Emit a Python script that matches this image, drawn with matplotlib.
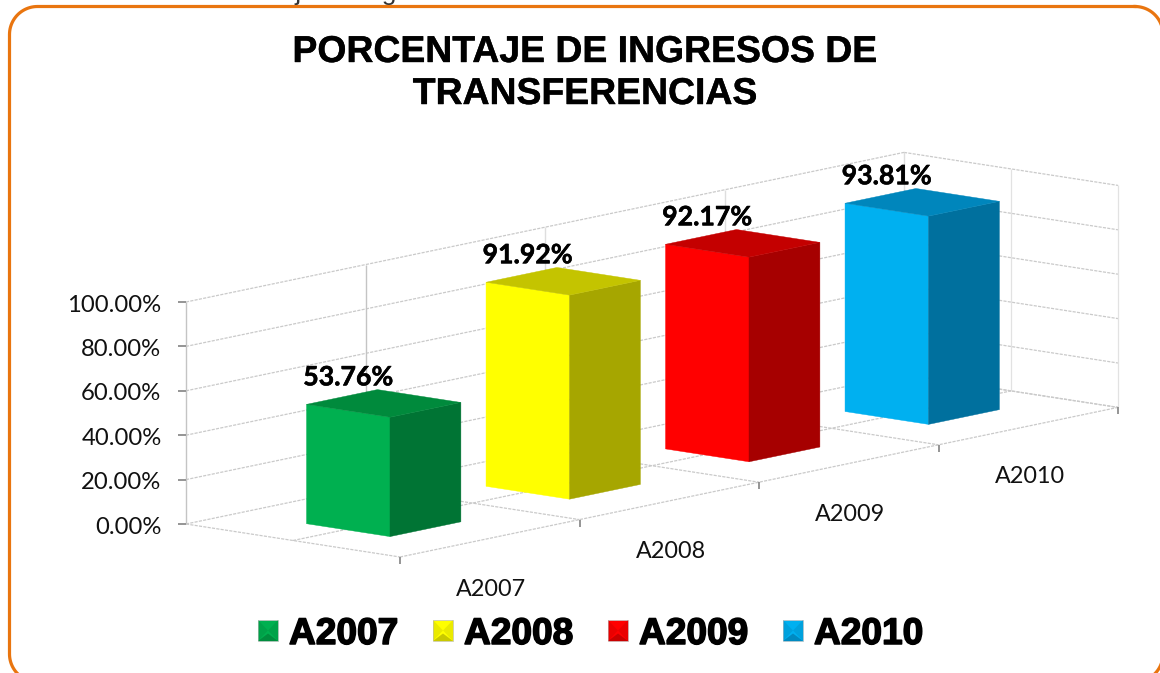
import numpy as np
import matplotlib
matplotlib.use("Agg")
import matplotlib.pyplot as plt
import matplotlib.patheffects as pe
from matplotlib.patches import Polygon

categories = ["A2007", "A2008", "A2009", "A2010"]
values = [53.76, 91.92, 92.17, 93.81]
y_ticks = [0, 20, 40, 60, 80, 100]
front_colors = ["#00B050", "#FFFF00", "#FF0000", "#00B0F0"]
side_colors = ["#007434", "#A6A600", "#A60000", "#00709E"]
top_colors = ["#008A3C", "#C4C400", "#C40000", "#0086BC"]
title = "PORCENTAJE DE INGRESOS DE\nTRANSFERENCIAS"
caption = "Gráfica N° 10: Porcentaje de Ingresos de Transferencia"

W, H = 1160, 673
fig = plt.figure(figsize=(W / 100, H / 100), dpi=100)
ax = fig.add_axes([0, 0, 1, 1])
ax.set_xlim(0, W)
ax.set_ylim(H, 0)
ax.axis("off")

ORIGIN = np.array([186.0, 524.0])
CAT = np.array([179.5, -37.4])
DEPTH = np.array([214.0, 33.0])
UNIT = 2.22


def P(c, d, v=0.0):
    return ORIGIN + c * CAT + d * DEPTH + np.array([0.0, -UNIT * v])


def seg(a, b, color="#CACACA", lw=0.9, ls=(0, (2.5, 1.0)), z=1):
    ax.plot([a[0], b[0]], [a[1], b[1]], color=color, lw=lw, ls=ls, zorder=z,
            solid_capstyle="butt")


n = len(categories)
# walls
for t in y_ticks:
    seg(P(0, 0, t), P(n, 0, t))
    seg(P(n, 0, t), P(n, 1, t))
    seg(P(0, 0, t) + [-8, 0], P(0, 0, t), color="#8C8C8C", lw=1.3, ls="-", z=2)
for c in range(n + 1):
    col = "#C4C4C4" if c < 2 else "#DEDEDE"
    seg(P(c, 0, 0), P(c, 0, 100), color=col, lw=1.0, ls="-")
seg(P(n, 0.5, 0), P(n, 0.5, 100), color="#E2E2E2", lw=0.9, ls="-")
seg(P(n, 1, 0), P(n, 1, 100), color="#E2E2E2", lw=0.9, ls="-")
# floor
for d in (0.5, 1):
    seg(P(0, d), P(n, d))
for c in range(n + 1):
    seg(P(c, 0), P(c, 1))
for c in range(n + 1):
    p = P(c, 1)
    seg(p, p + [0, 7], color="#8C8C8C", lw=1.3, ls="-", z=2)

# tick labels
for t in y_ticks:
    p = P(0, 0, t)
    ax.text(p[0] - 24.5, p[1] + 1, f"{t:.2f}%", ha="right", va="center_baseline",
            family="Lato", fontsize=17.2, color="#111111", zorder=5)
for i, name in enumerate(categories):
    p = P(i, 1)
    ax.text(p[0] + 91, p[1] + 30, name, ha="center", va="center_baseline",
            family="Lato", fontsize=16.8, color="#111111", zorder=5)

# bars
A0, A1, B0, B1 = 0.29, 0.685, 0.32, 0.71
for i, v in enumerate(values):
    a0, a1 = i + A0, i + A1
    ax.add_patch(Polygon([P(a0, B0), P(a0, B1), P(a0, B1, v), P(a0, B0, v)],
                         fc=front_colors[i], ec=front_colors[i], lw=0.3, zorder=3))
    ax.add_patch(Polygon([P(a0, B1), P(a1, B1), P(a1, B1, v), P(a0, B1, v)],
                         fc=side_colors[i], ec=side_colors[i], lw=0.3, zorder=3))
    ax.add_patch(Polygon([P(a0, B0, v), P(a0, B1, v), P(a1, B1, v), P(a1, B0, v)],
                         fc=top_colors[i], ec=top_colors[i], lw=0.3, zorder=3))
    top = P(a0, B0, v)
    t = ax.text(top[0] + 41.5, top[1] - 29, f"{v:.2f}%", ha="center", va="center_baseline",
                family="Lato", fontweight="bold", fontsize=19.2, color="black", zorder=6)
    t.set_path_effects([pe.withStroke(linewidth=0.4, foreground="black")])

# frame (rounded outline, running past the picture's bottom and right edges)
L, T, R, B, RAD = 9.5, 6.5, 1163.0, 682.0, 28.0
arc = np.linspace(0, np.pi / 2, 24)
fx = np.concatenate([R - RAD + RAD * np.sin(arc), R - RAD + RAD * np.cos(arc),
                     L + RAD - RAD * np.sin(arc), L + RAD - RAD * np.cos(arc), [R - RAD]])
fy = np.concatenate([T + RAD - RAD * np.cos(arc), B - RAD + RAD * np.sin(arc),
                     B - RAD + RAD * np.cos(arc), T + RAD - RAD * np.sin(arc), [T]])
ax.plot(fx, fy, color="#E9750F", lw=2.3, zorder=7)

# clipped caption above the frame
ax.text(16, 0.0, caption, ha="left", va="baseline", family="Liberation Sans",
        fontsize=19, color="#333333", zorder=8)

# title
t = ax.text(585, 73.5, title, ha="center", va="center", family="Liberation Sans",
            fontweight="bold", fontsize=26.9, linespacing=1.26, color="black", zorder=6)
t.set_path_effects([pe.withStroke(linewidth=0.3, foreground="black")])

# legend
key_x = [258, 433, 608, 783]
for i, name in enumerate(categories):
    x0, y0, w, h = key_x[i], 620, 20, 21
    cx, cy = x0 + w / 2, y0 + h / 2
    ax.add_patch(Polygon([(x0, y0), (x0 + w, y0), (x0 + w, y0 + h), (x0, y0 + h)],
                         fc=front_colors[i], ec="#BFBFBF", lw=0.5, zorder=6))
    ax.add_patch(Polygon([(x0, y0 + h), (x0 + w, y0 + h), (cx, cy + 3)],
                         fc=top_colors[i], ec="none", alpha=0.9, zorder=6))
    ax.add_patch(Polygon([(x0, y0), (x0, y0 + h), (cx, cy)],
                         fc=top_colors[i], ec="none", alpha=0.35, zorder=6))
    ax.add_patch(Polygon([(x0 + w, y0), (x0 + w, y0 + h), (cx, cy)],
                         fc=top_colors[i], ec="none", alpha=0.35, zorder=6))
    t = ax.text(x0 + 31, 630.5, name, ha="left", va="center_baseline",
                family="Liberation Sans", fontweight="bold", fontsize=26.7,
                color="black", zorder=6)
    t.set_path_effects([pe.withStroke(linewidth=1.1, foreground="black")])

fig.savefig("out.png", dpi=100, facecolor="white")
